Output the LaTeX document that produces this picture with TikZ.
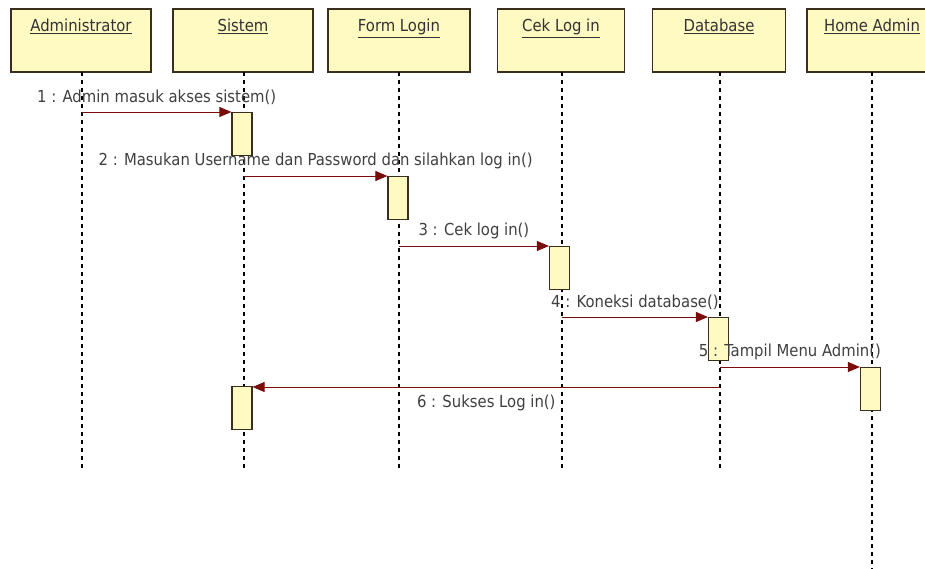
\documentclass[tikz,border=0pt]{standalone}
\usepackage{fontspec}
\setmainfont{DejaVu Sans Condensed}
\usepackage{xcolor}
\usepackage{tikz}
\usetikzlibrary{arrows.meta}
\definecolor{lifebox}{HTML}{FFF9C2}
\definecolor{edge}{HTML}{3B2E1F}
\definecolor{call}{HTML}{7A0C0C}
\tikzset{
  actor/.style={draw=edge, line width=1.4pt, fill=lifebox, inner sep=3pt,
                text height=20pt, text depth=37pt, anchor=base, text=black!80,
                font=\fontsize{16.5}{18}\selectfont},
  act/.style={draw=edge, line width=1.2pt, fill=lifebox, minimum width=20pt,
              minimum height=43pt, inner sep=0pt, anchor=north},
  lifeline/.style={draw=black, line width=1.1pt, dash pattern=on 4pt off 4pt},
  msg/.style={-{Triangle[length=12pt, width=10pt]}, call, line width=0.9pt},
  txt/.style={font=\fontsize{16.5}{18}\selectfont, text=black!75, inner sep=2pt},
}

\begin{document}
\begin{tikzpicture}[x=1pt, y=-1pt]
  \useasboundingbox (0,0) rectangle (925,569);
  \fill[white] (0,0) rectangle (925,569);
  \clip (0,0) rectangle (925,569);

  % --- objects (top) ---
  \node[actor, minimum width=140pt] (adm) at (81,32) {\underline{Administrator}};
  \node[actor, minimum width=140pt] (sis) at (243,32) {\underline{Sistem}};
  \node[actor, minimum width=142pt] (form) at (399,32) {\underline{Form Login}};
  \node[actor, minimum width=127pt] (cek) at (561,32) {\underline{Cek Log in}};
  \node[actor, minimum width=133pt] (db) at (719,32) {\underline{Database}};
  \node[actor, minimum width=130pt] (home) at (872,32) {\underline{Home Admin}};

  % --- lifeline ends ---
  \coordinate (admEnd) at (82,470);
  \coordinate (sisEnd) at (244,470);
  \coordinate (formEnd) at (399,470);
  \coordinate (cekEnd) at (562,470);
  \coordinate (dbEnd) at (720,470);
  \coordinate (homeEnd) at (872,569);

  \draw[lifeline] (82,72) -- (admEnd);
  \draw[lifeline] (244,72) -- (sisEnd);
  \draw[lifeline] (399,72) -- (formEnd);
  \draw[lifeline] (562,72) -- (cekEnd);
  \draw[lifeline] (720,72) -- (dbEnd);
  \draw[lifeline] (872,72) -- (homeEnd);

  % --- activations ---
  \node[act] (sisA) at (242,112) {};
  \node[act] (formA) at (398,176) {};
  \node[act] (cekA) at (559.5,246) {};
  \node[act] (dbA) at (718.5,317) {};
  \node[act] (homeA) at (870.5,367) {};
  \node[act] (sisB) at (242,386) {};

  % --- message starts ---
  \coordinate (m1) at (82,112);
  \coordinate (m2) at (244,176);
  \coordinate (m3) at (399,246);
  \coordinate (m4) at (562,317);
  \coordinate (m5) at (720,367);
  \coordinate (m6) at (720,387);

  % --- messages ---
  \draw[msg] (m1) -- node[txt, above=5pt] {1 : Admin masuk akses sistem()} (sisA.north west);
  \draw[msg] (m2) -- node[txt, above=5pt] {2 : Masukan Username dan Password dan silahkan log in()} (formA.north west);
  \draw[msg] (m3) -- node[txt, above=5pt] {3 : Cek log in()} (cekA.north west);
  \draw[msg] (m4) -- node[txt, above=5pt] {4 : Koneksi database()} (dbA.north west);
  \draw[msg] (m5) -- node[txt, above=5pt] {5 : Tampil Menu Admin()} (homeA.north west);
  \draw[msg] (m6) -- node[txt, below=6pt] {6 : Sukses Log in()} (sisB.north east |- m6);

\end{tikzpicture}
\end{document}
